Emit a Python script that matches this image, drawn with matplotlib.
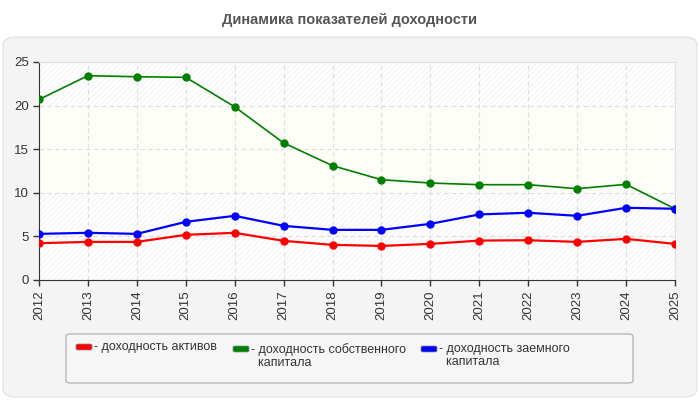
import matplotlib
matplotlib.use("Agg")
import matplotlib.pyplot as plt
from matplotlib.patches import FancyBboxPatch, Rectangle

plt.rcParams['font.family'] = ['Liberation Sans', 'DejaVu Sans']
plt.rcParams['hatch.linewidth'] = 0.5

# data
years = [2012, 2013, 2014, 2015, 2016, 2017, 2018, 2019, 2020, 2021, 2022, 2023, 2024, 2025]
assets = [4.22, 4.37, 4.37, 5.18, 5.41, 4.49, 4.03, 3.91, 4.14, 4.52, 4.56, 4.37, 4.72, 4.14]
equity = [20.7, 23.43, 23.31, 23.24, 19.86, 15.72, 13.11, 11.5, 11.12, 10.93, 10.93, 10.47, 10.97, 8.17]
borrowed = [5.29, 5.41, 5.29, 6.67, 7.36, 6.21, 5.75, 5.75, 6.44, 7.52, 7.71, 7.36, 8.28, 8.17]

labels = ["- доходность активов", "- доходность собственного\n  капитала", "- доходность заемного\n  капитала"]
colors = ["#ff0000", "#008000", "#0000ff"]
title = "Динамика показателей доходности"

fig = plt.figure(figsize=(7, 4), dpi=100)
fig.patch.set_facecolor("white")

# grey rounded panel behind the chart
panel = FancyBboxPatch((3/700, 3/400), 694/700, 360/400,
                       boxstyle="round,pad=0,rounding_size=0.02",
                       transform=fig.transFigure, facecolor="#f4f4f4",
                       edgecolor="#e4e4e4", linewidth=1, zorder=0)
fig.patches.append(panel)

fig.text(0.5, 1 - 20/400, title, ha="center", va="center", fontsize=10.5,
         fontweight="bold", color="#555555")

ax = fig.add_axes([39/700, 0.30, 636/700, 0.545])
ax.set_zorder(3)
ax.set_facecolor("white")

# background bands
ax.axhspan(20, 25, facecolor="white", edgecolor="#eeeeee", hatch="//////", linewidth=0, zorder=0)
ax.axhspan(10, 20, facecolor="#fefef8", edgecolor="none", linewidth=0, zorder=0)
ax.axhspan(0, 10, facecolor="white", edgecolor="#eeeeee", hatch="//////", linewidth=0, zorder=0)

ax.plot(years, assets, color=colors[0], lw=1.6, marker="o", ms=5, zorder=3)
ax.plot(years, equity, color=colors[1], lw=1.2, marker="o", ms=5, zorder=3)
ax.plot(years, borrowed, color=colors[2], lw=1.6, marker="o", ms=5, zorder=3)

ax.set_xlim(2012, 2025)
ax.set_ylim(0, 25)
ax.set_xticks(years)
ax.set_xticklabels([str(y) for y in years], rotation=90)
ax.set_yticks([0, 5, 10, 15, 20, 25])
ax.tick_params(labelsize=9.5, colors="#333333", length=4, width=1)
ax.grid(True, color="#dddddd", linestyle=(0, (4, 3)), linewidth=0.8, zorder=1)
ax.set_axisbelow(True)

for s in ["left", "bottom"]:
    ax.spines[s].set_color("#333333")
for s in ["top", "right"]:
    ax.spines[s].set_color("#e0e0e0")

# legend box drawn by hand
leg = FancyBboxPatch((66/700, 1 - 383/400), 567/700, 49/400,
                     boxstyle="round,pad=0,rounding_size=0.006",
                     transform=fig.transFigure, facecolor="#f6f6f6",
                     edgecolor="#aaaaaa", linewidth=0.8, zorder=1)
fig.patches.append(leg)

xs = [76, 233, 421]
ys = [344, 346, 346]
for x, y, lab, c in zip(xs, ys, labels, colors):
    fig.patches.append(FancyBboxPatch((x/700, 1 - (y + 6)/400), 16/700, 6/400,
                                      boxstyle="round,pad=0,rounding_size=0.003",
                                      transform=fig.transFigure, facecolor=c,
                                      edgecolor="#888888", linewidth=0.5, zorder=2))
    fig.text((x + 18)/700, 1 - (y - 3)/400, lab, ha="left", va="top",
             fontsize=9, color="#333333", linespacing=1.15)

fig.savefig("out.png", dpi=100)
